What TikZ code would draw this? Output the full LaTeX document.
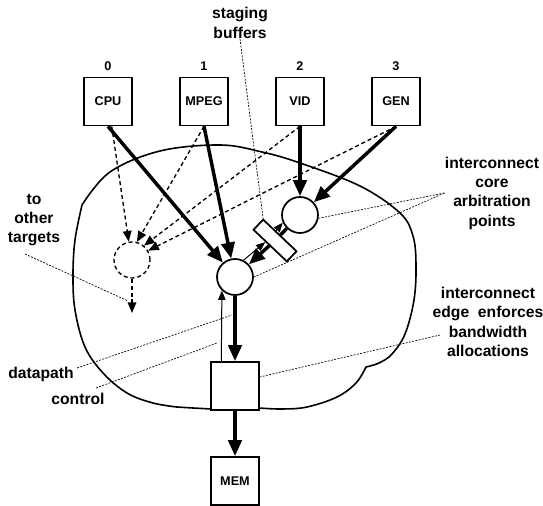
\documentclass[tikz,border=0pt]{standalone}
\usepackage{fontspec}
\setmainfont{Liberation Sans}
\usetikzlibrary{arrows.meta,calc}

\tikzset{every picture/.style={line width=0.75pt}}
\tikzset{
  unit/.style={draw,line width=1.3pt,fill=white,minimum width=36pt,minimum height=36pt,inner sep=0pt,font=\fontsize{9.5}{11}\selectfont\bfseries},
  num/.style={inner sep=0pt,font=\fontsize{9.5}{11}\selectfont\bfseries},
  arb/.style={draw,circle,line width=1.3pt,fill=white,minimum size=27pt,inner sep=0pt},
  note/.style={inner sep=0pt,align=center,font=\fontsize{11.75}{14.5}\selectfont\bfseries},
  cloud/.style={line width=1.2pt,line join=round},
  datapath/.style={line width=2.6pt,-{Triangle[length=12pt,width=10pt]}},
  ctrl/.style={line width=0.75pt,-{Triangle[length=7pt,width=5.5pt]}},
  other/.style={line width=1pt,dash pattern=on 3pt off 2.2pt,-{Triangle[length=8pt,width=6.5pt]}},
  leader/.style={line width=0.5pt,dash pattern=on 1.5pt off 1pt}
}

\begin{document}
\begin{tikzpicture}[x=0.75pt,y=0.75pt,yscale=-1,xscale=1]
\useasboundingbox (0,0) rectangle (543,506);

%Cloud: interconnect outline
\draw[cloud] plot[smooth,tension=0.6] coordinates {(82,205) (110,172) (160,151) (220,145) (262,152) (300,163) (360,186) (400,213) (413,236) (416,265) (414,300) (405,334) (392,354) (379,363) (366,367)}
  -- plot[smooth,tension=0.6] coordinates {(366,367) (356,383) (337,397) (307,407) (282,409) (259,408)}
  -- plot[smooth,tension=0.6] coordinates {(211,409) (193,408) (177,407)}
  -- plot[smooth,tension=0.6] coordinates {(177,407) (153,403) (127,393) (103,373) (85,347) (75,310) (73,275) (75,240) (82,205)} -- cycle;

%Initiators
\node[unit] (cpu) at (108,101.5) {CPU};
\node[unit] (mpeg) at (204,101.5) {MPEG};
\node[unit] (vid) at (300,101.5) {VID};
\node[unit] (gen) at (396,101.5) {GEN};
\node[num] (n0) at (108,66) {0};
\node[num] (n1) at (204,66) {1};
\node[num] (n2) at (300,66) {2};
\node[num] (n3) at (396,66) {3};

%Arbitration points
\node[arb] (uc) at (300,215) {};
\node[arb] (bc) at (235,277) {};
\node[arb,fill=none,dashed,line width=1pt,dash pattern=on 3pt off 2.2pt] (dc) at (132,260) {};
%Staging buffer
\node[draw,line width=1.3pt,fill=white,minimum width=34.5pt,minimum height=10.5pt,inner sep=0pt,rotate=-43.5] (buf) at (275,240.5) {};

%Edge and target
\node[unit] (bx) at (235,386) {};
\node[unit] (mem) at (235,481) {MEM};

%Datapath arrows
\draw[datapath] (cpu.south) -- (bc);
\draw[datapath] (mpeg.south) -- (bc);
\draw[datapath] (vid) -- (uc);
\draw[datapath] (gen.south) -- (uc);
\draw[datapath,-] (uc) -- (buf);
\draw[datapath] (buf) -- (bc);
\draw[datapath] (bc) -- (bx);
\draw[datapath] (bx) -- (mem);

%Control arrows
\draw[ctrl] (bc.63) -- ($(buf.south)!0.25!(buf.south west)$);
\draw[ctrl] ($(buf.north)!0.25!(buf.north west)$) -- (uc.204);
\draw[ctrl] ($(bx.north)!0.55!(bx.north west)$) -- (bc.-134);

%To other targets
\coordinate (oend) at (132,313);
\draw[other] ($(cpu.south)!0.15!(cpu.south east)$) -- (dc.100);
\draw[other] (mpeg.south) -- (dc.75);
\draw[other] (vid.south) -- (dc.50);
\draw[other] (gen.south) -- (dc.30);
\draw[other] (dc) -- (oend);

% Text Node
\node[note] (staging) at (240,23) {staging\\buffers};
% Text Node
\node[note] (core) at (492,193) {interconnect\\core\\arbitration\\points};
% Text Node
\node[note] (edge) at (488,322) {interconnect\\edge~ enforces\\bandwidth\\allocations};
% Text Node
\node[note] (tgt) at (34,220) {to\\other\\targets};
% Text Node
\node[note] (dp) at (41,374) {datapath};
% Text Node
\node[note] (ct) at (78,399) {control};

%Leaders
\coordinate (edgept) at (440,335);
\coordinate (tgtpt) at (25,254);
\coordinate (tgtend) at (128,301);
\coordinate (dppt) at (77,368);
\coordinate (dpend) at (232,315);
\coordinate (ctpt) at (96,388);
\coordinate (ctend) at (217,343);
\draw[leader] (staging.south) -- (buf.north west);
\draw[leader] (core.west) -- (uc.-10);
\draw[leader] (core.west) -- (bc.east);
\draw[leader] (edgept) -- (bx.20);
\draw[leader] (tgtpt) -- (tgtend);
\draw[leader] (dppt) -- (dpend);
\draw[leader] (ctpt) -- (ctend);

\end{tikzpicture}
\end{document}
